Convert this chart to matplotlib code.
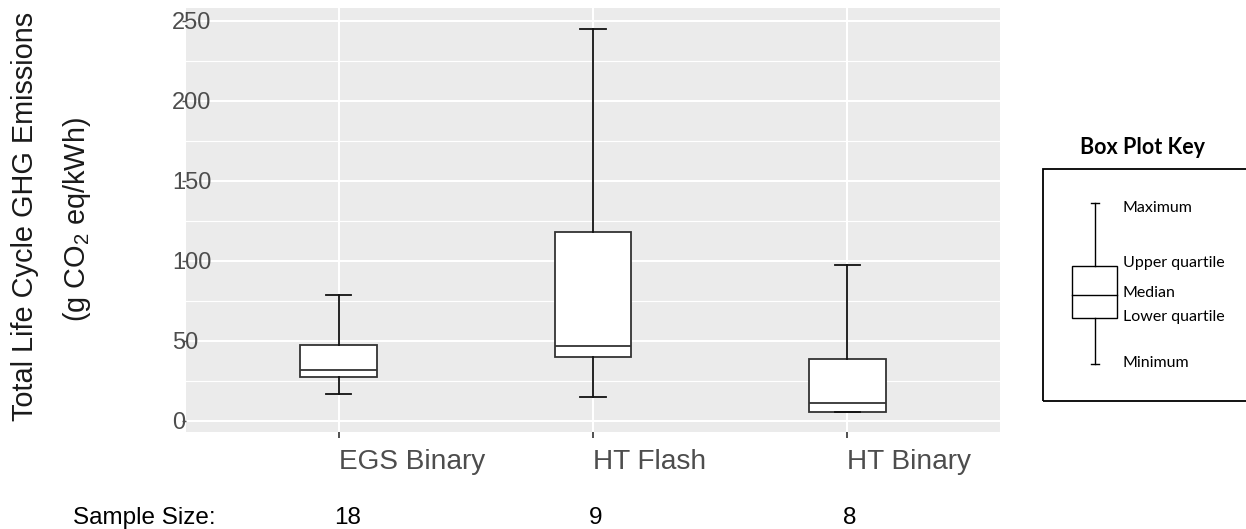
import matplotlib
matplotlib.use("Agg")
import matplotlib.pyplot as plt
from matplotlib.patches import Rectangle
from matplotlib.lines import Line2D
from matplotlib.ticker import MultipleLocator

plt.rcParams['font.family'] = ['Liberation Sans', 'DejaVu Sans']
plt.rcParams['mathtext.fontset'] = 'custom'
plt.rcParams['mathtext.rm'] = 'Liberation Sans'
plt.rcParams['mathtext.it'] = 'Liberation Sans:italic'

# ---- data ----
categories = ["EGS Binary", "HT Flash", "HT Binary"]
whisker_low = [17.1, 14.8, 5.5]
q1_values = [27.3, 40.0, 5.5]
medians = [32.0, 47.0, 11.4]
q3_values = [47.7, 118.0, 38.8]
whisker_high = [78.6, 245.0, 97.7]
sample_sizes = [18, 9, 8]
y_ticks = [0, 50, 100, 150, 200, 250]
key_labels = ["Maximum", "Upper quartile", "Median", "Lower quartile", "Minimum"]

W, H = 1246, 529
fig = plt.figure(figsize=(W / 100, H / 100), dpi=100)

def fx(x):
    return x / W

def fy(y):
    return 1 - y / H

ax = fig.add_axes([fx(186), fy(432), fx(1000) - fx(186), fy(8) - fy(432)])
ax.set_facecolor('#EBEBEB')
for s in ax.spines.values():
    s.set_visible(False)

positions = list(range(1, len(categories) + 1))
stats = []
for i, c in enumerate(categories):
    stats.append(dict(label=c, whislo=whisker_low[i], q1=q1_values[i], med=medians[i],
                      q3=q3_values[i], whishi=whisker_high[i], fliers=[]))

ax.bxp(stats, positions=positions, widths=0.3, patch_artist=True, showfliers=False,
       capwidths=0.1,
       boxprops=dict(facecolor='white', edgecolor='#333333', linewidth=1.3),
       medianprops=dict(color='#333333', linewidth=1.3),
       whiskerprops=dict(color='#111111', linewidth=1.3),
       capprops=dict(color='#111111', linewidth=1.3),
       zorder=3)

ax.set_xlim(0.4, 3.6)
ax.set_ylim(-6.9, 258.1)
ax.set_yticks(y_ticks)
ax.yaxis.set_minor_locator(MultipleLocator(25))
ax.set_xticks(positions)
ax.set_xticklabels([])
ax.grid(True, which='major', color='white', linewidth=1.5, zorder=0)
ax.grid(True, which='minor', axis='y', color='white', linewidth=0.8, zorder=0)
ax.set_axisbelow(True)

ax.tick_params(axis='y', which='major', length=3, width=1, color='#555555',
               labelsize=17, labelcolor='#4D4D4D', pad=7)
ax.tick_params(axis='y', which='minor', length=0)
for lab in ax.get_yticklabels():
    lab.set_horizontalalignment('left')
    lab.set_verticalalignment('center_baseline')
ax.tick_params(axis='x', which='major', length=4, width=1.2, color='#333333')

# x category labels, left aligned at ticks
for p, c in zip(positions, categories):
    ax.annotate(c, xy=(p, 0), xycoords=('data', 'axes fraction'),
                xytext=(0, -37), textcoords='offset pixels',
                ha='left', va='baseline', fontsize=20.2, color='#4D4D4D')

# sample sizes
fig.text(fx(73), fy(524), "Sample Size:", ha='left', va='baseline', fontsize=17.5, color='black')
for p, n in zip(positions, sample_sizes):
    ax.annotate(str(n), xy=(p, 0), xycoords=('data', 'axes fraction'),
                xytext=(-4, -92), textcoords='offset pixels',
                ha='left', va='baseline', fontsize=17.5, color='black')

# y-axis label (two lines)
fig.text(fx(25), fy(216), "Total Life Cycle GHG Emissions", rotation=90,
         ha='center', va='center', fontsize=20.8, color='#1a1a1a')
fig.text(fx(77), fy(220), "(g CO$_2$ eq/kWh)", rotation=90,
         ha='center', va='center', fontsize=20.8, color='#1a1a1a')

# ---- Box plot key ----
kfont = ['Lato', 'DejaVu Sans']
fig.text(fx(1142), fy(147), "Box Plot Key", ha='center', va='center',
         fontsize=15.5, fontweight='bold', family=kfont, color='black')
fig.add_artist(Rectangle((fx(1043), fy(401)), fx(1260) - fx(1043), fy(169) - fy(401),
                         transform=fig.transFigure, fill=False, edgecolor='black',
                         linewidth=1.3, clip_on=False))
kx = 1095.3
lw = 1.0
def kline(x0, y0, x1, y1):
    fig.add_artist(Line2D([fx(x0), fx(x1)], [fy(y0), fy(y1)], transform=fig.transFigure,
                          color='black', linewidth=lw))
kline(kx, 203, kx, 266)
kline(kx, 318, kx, 364)
kline(kx - 4, 203, kx + 4, 203)
kline(kx - 4, 364, kx + 4, 364)
fig.add_artist(Rectangle((fx(1072.3), fy(318.3)), fx(1116.7) - fx(1072.3), fy(266) - fy(318.3),
                         transform=fig.transFigure, fill=False, edgecolor='black', linewidth=lw))
kline(1072.3, 295, 1116.7, 295)
key_y = [208, 263, 293, 317, 363]
for lab, yy in zip(key_labels, key_y):
    fig.text(fx(1123), fy(yy), lab, ha='left', va='center', fontsize=11.5,
             family=kfont, color='black')

fig.savefig("out.png", dpi=100)
